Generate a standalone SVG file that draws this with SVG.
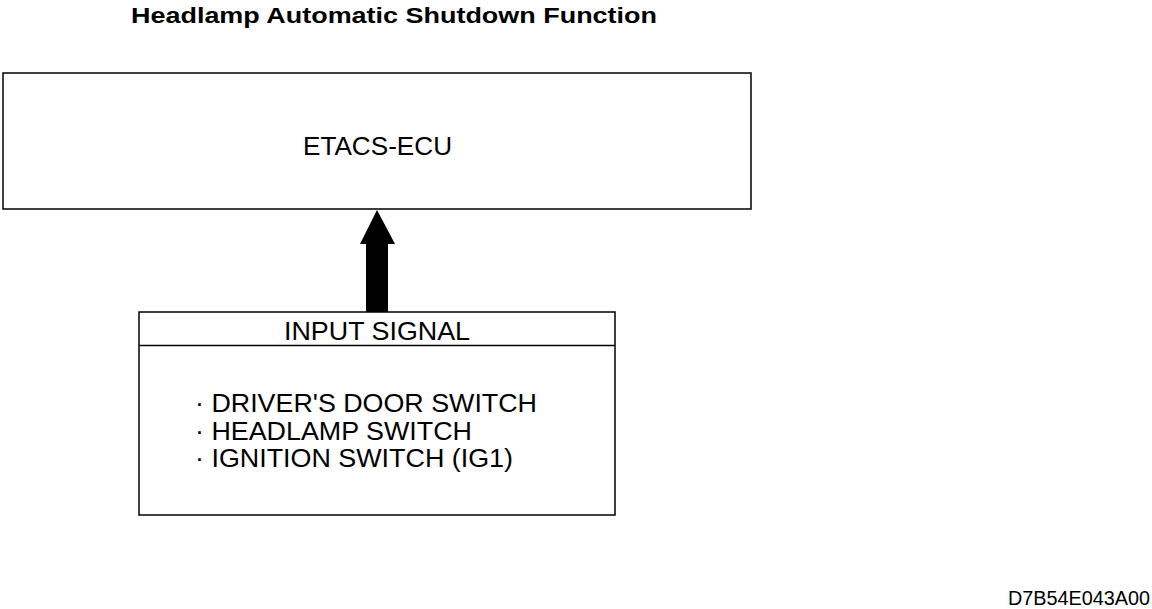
<svg xmlns="http://www.w3.org/2000/svg" width="1152" height="609" viewBox="0 0 1152 609">
<style>
.box{fill:#fff;stroke:#000;stroke-width:1.5}
.t{font-family:"Liberation Sans",Arial,sans-serif;fill:#000}
</style>
<rect width="1152" height="609" fill="#fff"/>
<text class="t" x="131" y="23" font-size="22" font-weight="bold" textLength="526" lengthAdjust="spacingAndGlyphs">Headlamp Automatic Shutdown Function</text>
<g id="ecu">
<rect class="box" x="3" y="73" width="748" height="136"/>
<text class="t" x="303" y="155" font-size="25" textLength="149" lengthAdjust="spacingAndGlyphs">ETACS-ECU</text>
</g>
<g id="input">
<rect class="box" x="139" y="312" width="476" height="203"/>
<line x1="139" y1="345.5" x2="615" y2="345.5" stroke="#000" stroke-width="1.5"/>
<text class="t" x="284" y="340" font-size="25" textLength="186" lengthAdjust="spacingAndGlyphs">INPUT SIGNAL</text>
<text class="t" x="195" y="412" font-size="25" textLength="342" lengthAdjust="spacingAndGlyphs">· DRIVER'S DOOR SWITCH</text>
<text class="t" x="195" y="440" font-size="25" textLength="277" lengthAdjust="spacingAndGlyphs">· HEADLAMP SWITCH</text>
<text class="t" x="195" y="467" font-size="25" textLength="318" lengthAdjust="spacingAndGlyphs">· IGNITION SWITCH (IG1)</text>
</g>
<g id="connectors">
<polygon points="377,210 395,244 388,244 388,312 366,312 366,244 360,244" fill="#000"/>
</g>
<text class="t" x="1008" y="605" font-size="20" textLength="142" lengthAdjust="spacingAndGlyphs">D7B54E043A00</text>
</svg>
